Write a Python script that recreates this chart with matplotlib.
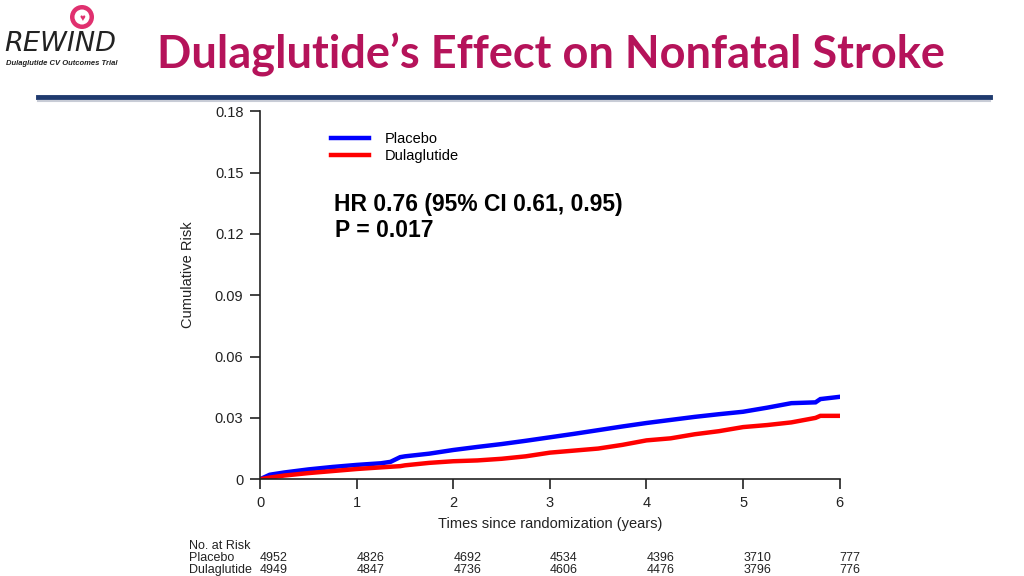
import numpy as np
import matplotlib.pyplot as plt
from matplotlib.patches import Circle
import matplotlib.transforms as mtransforms

plt.rcParams['font.family'] = ['Liberation Sans', 'DejaVu Sans']

# Kaplan-Meier style cumulative risk
years = [0, 0.1, 0.25, 0.5, 0.75, 1.0, 1.25, 1.35, 1.45, 1.5, 1.75, 2.0, 2.25, 2.5,
         2.75, 3.0, 3.25, 3.5, 3.75, 4.0, 4.25, 4.5, 4.75, 5.0, 5.25, 5.5, 5.75,
         5.8, 6.0]
placebo = [0, 0.0022, 0.0033, 0.0048, 0.0060, 0.0070, 0.0078, 0.0085, 0.0108, 0.0112,
           0.0125, 0.0143, 0.0158, 0.0172, 0.0188, 0.0205, 0.0222, 0.0240, 0.0258,
           0.0275, 0.0290, 0.0305, 0.0318, 0.0330, 0.0350, 0.0372, 0.0376, 0.0392,
           0.0403]
dulaglutide = [0, 0.0008, 0.0018, 0.0030, 0.0040, 0.0050, 0.0058, 0.0061, 0.0064,
               0.0068, 0.0080, 0.0088, 0.0092, 0.0100, 0.0112, 0.0130, 0.0140, 0.0150,
               0.0168, 0.0190, 0.0200, 0.0220, 0.0235, 0.0255, 0.0265, 0.0278, 0.0300,
               0.0310, 0.0310]

risk_years = [0, 1, 2, 3, 4, 5, 6]
risk_placebo = [4952, 4826, 4692, 4534, 4396, 3710, 777]
risk_dula = [4949, 4847, 4736, 4606, 4476, 3796, 776]

y_ticks = [0, 0.03, 0.06, 0.09, 0.12, 0.15, 0.18]
y_tick_labels = ['0', '0.03', '0.06', '0.09', '0.12', '0.15', '0.18']

fig = plt.figure(figsize=(10.24, 5.76), dpi=100)
ax = fig.add_axes([0.254, 0.168, 0.566, 0.639])

ax.plot(years, placebo, color='#0000ff', lw=3.2, label='Placebo', solid_joinstyle='miter')
ax.plot(years, dulaglutide, color='#ff0000', lw=3.2, label='Dulaglutide', solid_joinstyle='miter')

ax.set_xlim(0, 6)
ax.set_ylim(0, 0.18)
ax.set_xticks(range(7))
ax.set_yticks(y_ticks)
ax.set_yticklabels(y_tick_labels)
for s in ['top', 'right']:
    ax.spines[s].set_visible(False)
for s in ['left', 'bottom']:
    ax.spines[s].set_color('#222222')
    ax.spines[s].set_linewidth(1.2)
ax.tick_params(direction='out', length=7, width=1.2, colors='#222222', labelsize=10.5, pad=5)
ax.set_ylabel('Cumulative Risk', fontsize=10.5, color='#222222')
ax.yaxis.set_label_coords(-0.112, 0.555)
ax.set_xlabel('Times since randomization (years)', fontsize=10.5, color='#222222', labelpad=5)

leg = ax.legend(loc='upper left', bbox_to_anchor=(0.1, 0.978), frameon=False, fontsize=10.5,
                handlelength=2.6, labelspacing=0.2, handletextpad=1.1)

ax.text(0.127, 0.728, 'HR 0.76 (95% CI 0.61, 0.95)', transform=ax.transAxes,
        fontsize=16.5, fontweight='bold', color='black', va='baseline')
ax.text(0.13, 0.659, 'P = 0.017', transform=ax.transAxes,
        fontsize=16.5, fontweight='bold', color='black', va='baseline')

# at-risk table under the axis
trans = mtransforms.blended_transform_factory(ax.transData, fig.transFigure)
fig.text(0.185, 1 - 549 / 576, 'No. at Risk', fontsize=9, color='#222222', va='baseline')
fig.text(0.185, 1 - 561 / 576, 'Placebo', fontsize=9, color='#222222', va='baseline')
fig.text(0.185, 1 - 573 / 576, 'Dulaglutide', fontsize=9, color='#222222', va='baseline')
for x, p, d in zip(risk_years, risk_placebo, risk_dula):
    ax.text(x, 1 - 561 / 576, str(p), transform=trans, fontsize=9, color='#222222',
            va='baseline', clip_on=False)
    ax.text(x, 1 - 573 / 576, str(d), transform=trans, fontsize=9, color='#222222',
            va='baseline', clip_on=False)

# header
fig.text(0.153, 0.905, 'Dulaglutide\u2019s Effect on Nonfatal Stroke', fontsize=32.5,
         fontweight='bold', color='#b5135a', family=['Lato', 'DejaVu Sans'], va='center')
fig.add_artist(plt.Line2D([0.037, 0.967], [0.831, 0.831], color='#1f3a6e', lw=3.5))
fig.add_artist(plt.Line2D([0.037, 0.967], [0.824, 0.824], color='#c8ccd6', lw=1.5))
fig.text(0.004, 1 - 51 / 576, 'REWIND', fontsize=19.5, color='#222222', style='oblique',
         family=['DejaVu Sans'], va='baseline', fontweight='light')
fig.text(0.006, 1 - 65 / 576, 'Dulaglutide CV Outcomes Trial', fontsize=5.5, color='#222222',
         style='italic', fontweight='bold', va='baseline')
logo = fig.dpi_scale_trans
fig.add_artist(Circle((0.82, 5.59), 0.12, transform=logo, facecolor='#e0306f', edgecolor='none'))
fig.add_artist(Circle((0.82, 5.59), 0.075, transform=logo, facecolor='white', edgecolor='none'))
fig.text(0.82 / 10.24, 5.585 / 5.76, '\u2665', fontsize=7, color='#e0306f', ha='center', va='center')

fig.savefig('out.png', dpi=100)
